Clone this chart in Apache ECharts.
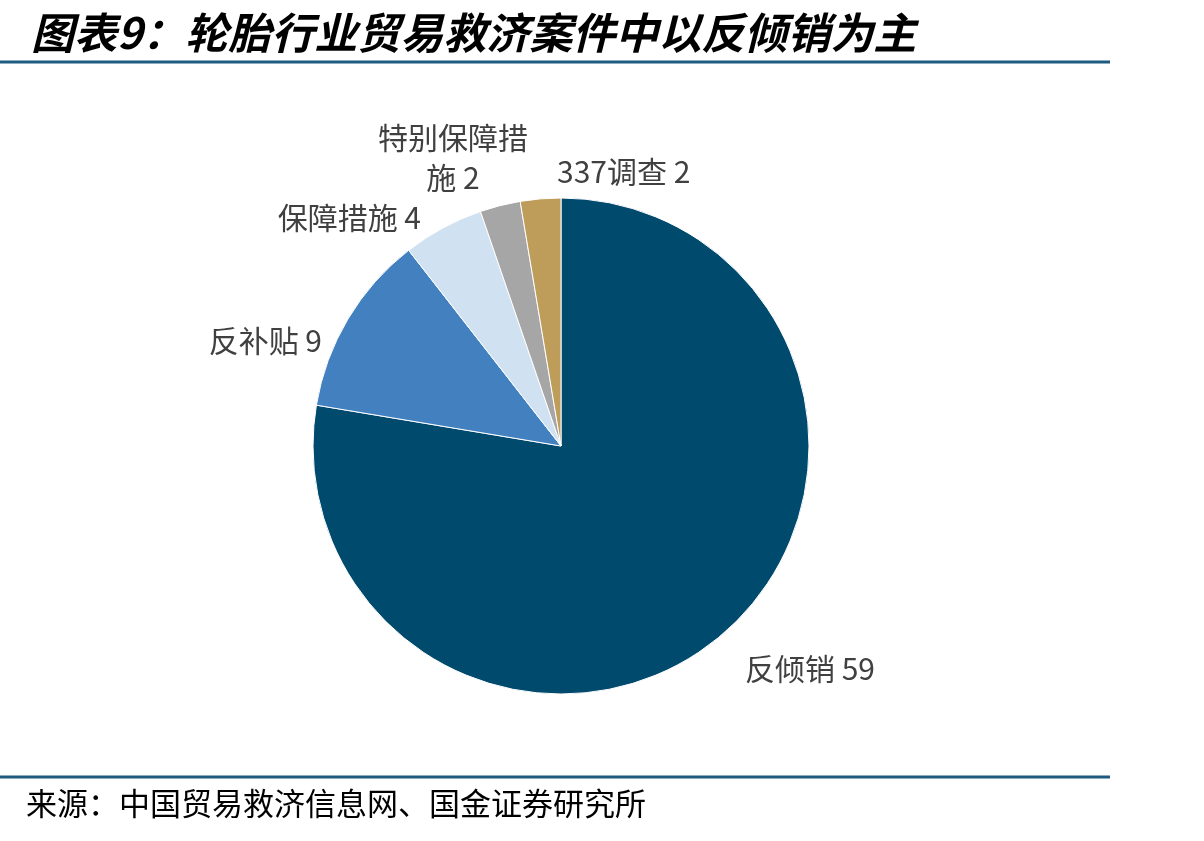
<!DOCTYPE html>
<html>
<head>
<meta charset="utf-8">
<script src="https://cdn.jsdelivr.net/npm/echarts@6/dist/echarts.min.js"></script>
<style>
  html, body { margin: 0; padding: 0; background: #fff; }
  #chart { width: 1204px; height: 841px; }
</style>
</head>
<body>
<div id="chart"></div>
<script>
// 案件类型及数量
var categories = ['反倾销', '反补贴', '保障措施', '特别保障措施', '337调查']
var caseCounts = [59, 9, 4, 2, 2]
var sliceColors = ['#004A6E', '#4380BF', '#D0E2F2', '#A6A6A6', '#BE9C5A']

var pieData = categories.map(function (name, i) {
  return {name: name, value: caseCounts[i], itemStyle: {color: sliceColors[i]}}
})

// label anchors (layout only), same order as categories
var labelSpots = [
  {x: 745, y: 669, align: 'left'},
  {x: 322, y: 341, align: 'right'},
  {x: 421, y: 218, align: 'right'},
  {x: 453, y: 158, align: 'center'},
  {x: 557, y: 172, align: 'left'}
]

var chart = echarts.init(document.getElementById('chart'), null, {renderer: 'canvas'})

var option = {
  backgroundColor: '#fff',
  animation: false,
  title: {
    text: '图表9：轮胎行业贸易救济案件中以反倾销为主',
    left: 26,
    top: 6,
    textStyle: {
      fontFamily: 'Noto Sans CJK SC',
      fontSize: 43,
      fontWeight: 'bold',
      fontStyle: 'italic',
      color: '#000'
    }
  },
  graphic: [
    {type: 'line', shape: {x1: 0, y1: 62, x2: 1110, y2: 62}, style: {stroke: '#1F5A80', lineWidth: 3}},
    {type: 'line', shape: {x1: 0, y1: 777, x2: 1110, y2: 777}, style: {stroke: '#1F5A80', lineWidth: 3}},
    {
      type: 'text', left: 26, top: 788,
      style: {text: '来源：中国贸易救济信息网、国金证券研究所', font: '31px "Noto Sans CJK SC"', fill: '#000'}
    }
  ],
  series: [
    {
      type: 'pie',
      center: [561, 446],
      radius: [0, 248],
      startAngle: 90,
      clockwise: true,
      avoidLabelOverlap: false,
      data: pieData,
      itemStyle: {borderColor: '#fff', borderWidth: 1},
      label: {
        show: true,
        position: 'outside',
        formatter: '{b} {c}',
        fontFamily: 'Noto Sans CJK SC',
        fontSize: 30,
        color: '#404040',
        width: 160,
        overflow: 'break',
        lineHeight: 40
      },
      labelLine: {show: false},
      labelLayout: function (params) {
        var s = labelSpots[params.dataIndex]
        return {x: s.x, y: s.y, align: s.align, verticalAlign: 'middle', hideOverlap: false}
      },
      emphasis: {disabled: true}
    }
  ]
}

chart.setOption(option)
</script>
</body>
</html>
